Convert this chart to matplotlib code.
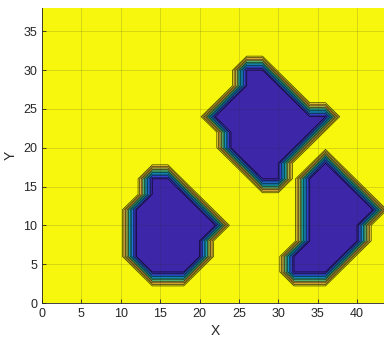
import numpy as np
import matplotlib
matplotlib.use('Agg')
import matplotlib.pyplot as plt
from matplotlib.colors import LinearSegmentedColormap

# occupancy grid, spacing 2: '.' = free (1), '#' = obstacle (0); rows from y=38 down to y=0
GRID_ROWS = [
    '.......................',  # 38
    '.......................',  # 36
    '.......................',  # 34
    '.......................',  # 32
    '.............##........',  # 30
    '.............###.......',  # 28
    '............#####......',  # 26
    '...........########....',  # 24
    '............######.....',  # 22
    '............#####......',  # 20
    '.............###..#....',  # 18
    '.......##.....##.###...',  # 16
    '.......###.......####..',  # 14
    '......#####......#####.',  # 12
    '......######.....####..',  # 10
    '......#####......####..',  # 8
    '......#####.....####...',  # 6
    '.......###......###....',  # 4
    '.......................',  # 2
    '.......................',  # 0
]
X_STEP = 2
LEVELS = np.linspace(0, 1, 11)
X_TICKS = [0, 5, 10, 15, 20, 25, 30, 35, 40]
Y_TICKS = [0, 5, 10, 15, 20, 25, 30, 35]

# rough parula
parula = LinearSegmentedColormap.from_list('parula', [
    (0.00, '#3e26a8'), (0.10, '#4145e5'), (0.20, '#2f6ffa'), (0.30, '#1e91e2'),
    (0.40, '#0fb0c9'), (0.50, '#2cc1a1'), (0.60, '#7cc86c'), (0.70, '#c7c13e'),
    (0.80, '#f8ba3d'), (0.90, '#f7d92f'), (1.00, '#f7f70e')])

Z = np.array([[0.0 if c == '#' else 1.0 for c in row] for row in GRID_ROWS])[::-1]
ny, nx = Z.shape
x = np.arange(nx) * X_STEP
y = np.arange(ny) * X_STEP
X, Y = np.meshgrid(x, y)

plt.rcParams['font.family'] = ['Liberation Sans', 'DejaVu Sans']
fig = plt.figure(figsize=(3.84, 3.39), dpi=100)
ax = fig.add_axes([42/384, 36/339, 346.5/384, 295/339])

ax.contourf(X, Y, Z, levels=LEVELS, cmap=parula, vmin=0.05, vmax=0.95)
ax.contour(X, Y, Z, levels=LEVELS, colors='k', linewidths=0.5, alpha=0.8)

ax.set_xlim(0, 44)
ax.set_ylim(0, 38)
ax.set_xticks(X_TICKS)
ax.set_yticks(Y_TICKS)
ax.grid(True, color='#262626', alpha=0.18, linewidth=0.6)
ax.set_axisbelow(False)
ax.tick_params(direction='in', length=3, labelsize=9, colors='#262626', width=0.6)
for s in ['top', 'right']:
    ax.spines[s].set_visible(False)
for s in ['left', 'bottom']:
    ax.spines[s].set_color('#262626')
    ax.spines[s].set_linewidth(0.6)
ax.set_xlabel('X', fontsize=10, color='#262626', labelpad=3)
ax.set_ylabel('Y', fontsize=10, color='#262626', labelpad=4)

plt.savefig('out.png', dpi=100)
